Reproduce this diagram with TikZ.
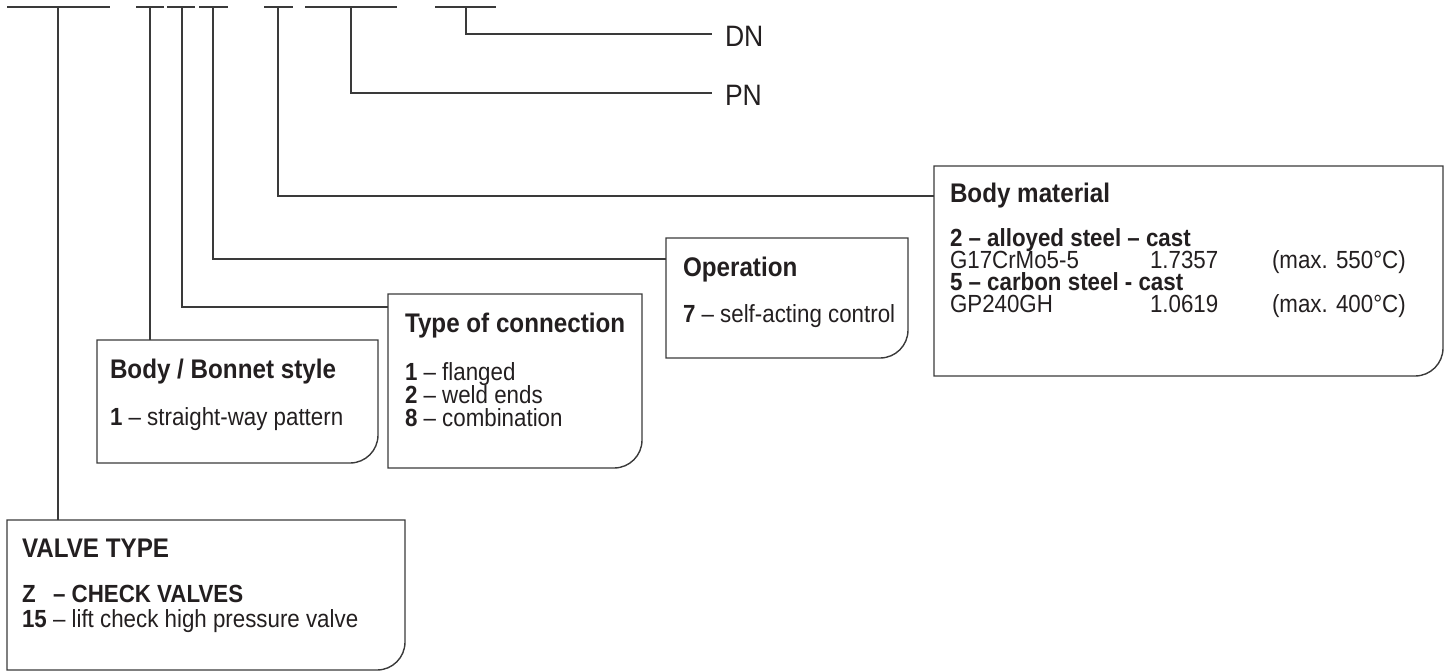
\documentclass[tikz,border=0pt]{standalone}
\usepackage{fontspec}
\setmainfont{Liberation Sans}[FakeStretch=0.9]
\usepackage{calc}
\usetikzlibrary{calc}
\definecolor{lncol}{HTML}{3a3a3a}
\definecolor{txcol}{HTML}{231f20}
\tikzset{
  every node/.style={inner sep=0pt, outer sep=0pt, text=txcol},
  lnk/.style={draw=lncol, line width=1.4pt},
  hd/.style={anchor=base west, font=\fontsize{26.9}{26.9}\selectfont\bfseries},
  bd/.style={anchor=base west, font=\fontsize{24.8}{24.8}\selectfont},
  bdb/.style={anchor=base west, font=\fontsize{24.8}{24.8}\selectfont\bfseries},
  big/.style={anchor=west, font=\fontsize{29.5}{29.5}\selectfont},
  area/.style={anchor=north west, draw=none},
}
\newcommand\rbox[1]{\draw[lnk] (#1.south west) -- (#1.north west) -- (#1.north east) -- ([yshift=28pt]#1.south east) .. controls ([yshift=12.5pt]#1.south east) and ([xshift=-12.5pt]#1.south east) .. ([xshift=-28pt]#1.south east) -- cycle;}
\begin{document}
\begin{tikzpicture}[x=1pt,y=-1pt]
\useasboundingbox (0,0) rectangle (1450,671);
% boxes
\node[area, minimum width=398pt, minimum height=150pt] (vt) at (7,520) {};
\node[area, minimum width=281pt, minimum height=123pt] (bb) at (97,340) {};
\node[area, minimum width=254pt, minimum height=174pt] (tc) at (388,294) {};
\node[area, minimum width=242pt, minimum height=120pt] (op) at (666,238) {};
\node[area, minimum width=509pt, minimum height=210pt] (bm) at (934,166) {};
\rbox{vt}\rbox{bb}\rbox{tc}\rbox{op}\rbox{bm}
% top bars
\coordinate (a1) at (7,7);   \coordinate (a2) at (110,7);  \coordinate (t1) at (58,7);
\coordinate (b1) at (136,7); \coordinate (b2) at (164,7);  \coordinate (t2) at (150,7);
\coordinate (c1) at (167,7); \coordinate (c2) at (195,7);  \coordinate (t3) at (182,7);
\coordinate (d1) at (199,7); \coordinate (d2) at (228,7);  \coordinate (t4) at (213,7);
\coordinate (e1) at (264,7); \coordinate (e2) at (293,7);  \coordinate (t5) at (278,7);
\coordinate (f1) at (305,7); \coordinate (f2) at (397,7);  \coordinate (t6) at (351,7);
\coordinate (g1) at (435,7); \coordinate (g2) at (496,7);  \coordinate (t7) at (466,7);
\foreach \p in {a,b,c,d,e,f,g} {\draw[lnk] (\p1) -- (\p2);}
% end points
\coordinate (tcin) at (388,307);
\coordinate (opin) at (666,259);
\coordinate (bmin) at (934,196);
\coordinate (pnend) at (712,93);
\coordinate (dnend) at (712,34);
\node[big] (dn) at (725,36) {DN};
\node[big] (pn) at (725,95) {PN};
% connectors
\draw[lnk] (t1) -- (t1 |- vt.north);
\draw[lnk] (t2) -- (t2 |- bb.north);
\draw[lnk] (t3) |- (tcin);
\draw[lnk] (t4) |- (opin);
\draw[lnk] (t5) |- (bmin);
\draw[lnk] (t6) |- (pnend);
\draw[lnk] (t7) |- (dnend);
% VALVE TYPE
\node[hd] (vth) at (22,557) {VALVE TYPE};
\node[bdb] (vt1) at (22,602) {\makebox[\widthof{15}][l]{Z} – CHECK VALVES};
\node[bd] (vt2) at (22,627) {\textbf{15} – lift check high pressure valve};
% Body / Bonnet
\node[hd] (bbh) at (110,378) {Body / Bonnet style};
\node[bd] (bb1) at (110,425) {\textbf{1} – straight-way pattern};
% Type of connection
\node[hd] (tch) at (405,332) {Type of connection};
\node[bd] (tc1) at (405,380) {\textbf{1} – flanged};
\node[bd] (tc2) at (405,403) {\textbf{2} – weld ends};
\node[bd] (tc3) at (405,426) {\textbf{8} – combination};
% Operation
\node[hd] (oph) at (683,276) {Operation};
\node[bd] (op1) at (683,322) {\textbf{7} – self-acting control};
% Body material
\node[hd] (bmh) at (950,202) {Body material};
\node[bdb] (bm1) at (950,246) {2 – alloyed steel – cast};
\node[bd] (bm2) at (950,268) {G17CrMo5-5};
\node[bd] (bm3) at (1150,268) {1.7357};
\node[bd] (bm4) at (1272,268) {(max. 550°C)};
\node[bdb] (bm5) at (950,290) {5 – carbon steel - cast};
\node[bd] (bm6) at (950,312) {GP240GH};
\node[bd] (bm7) at (1150,312) {1.0619};
\node[bd] (bm8) at (1272,312) {(max. 400°C)};
\end{tikzpicture}
\end{document}
